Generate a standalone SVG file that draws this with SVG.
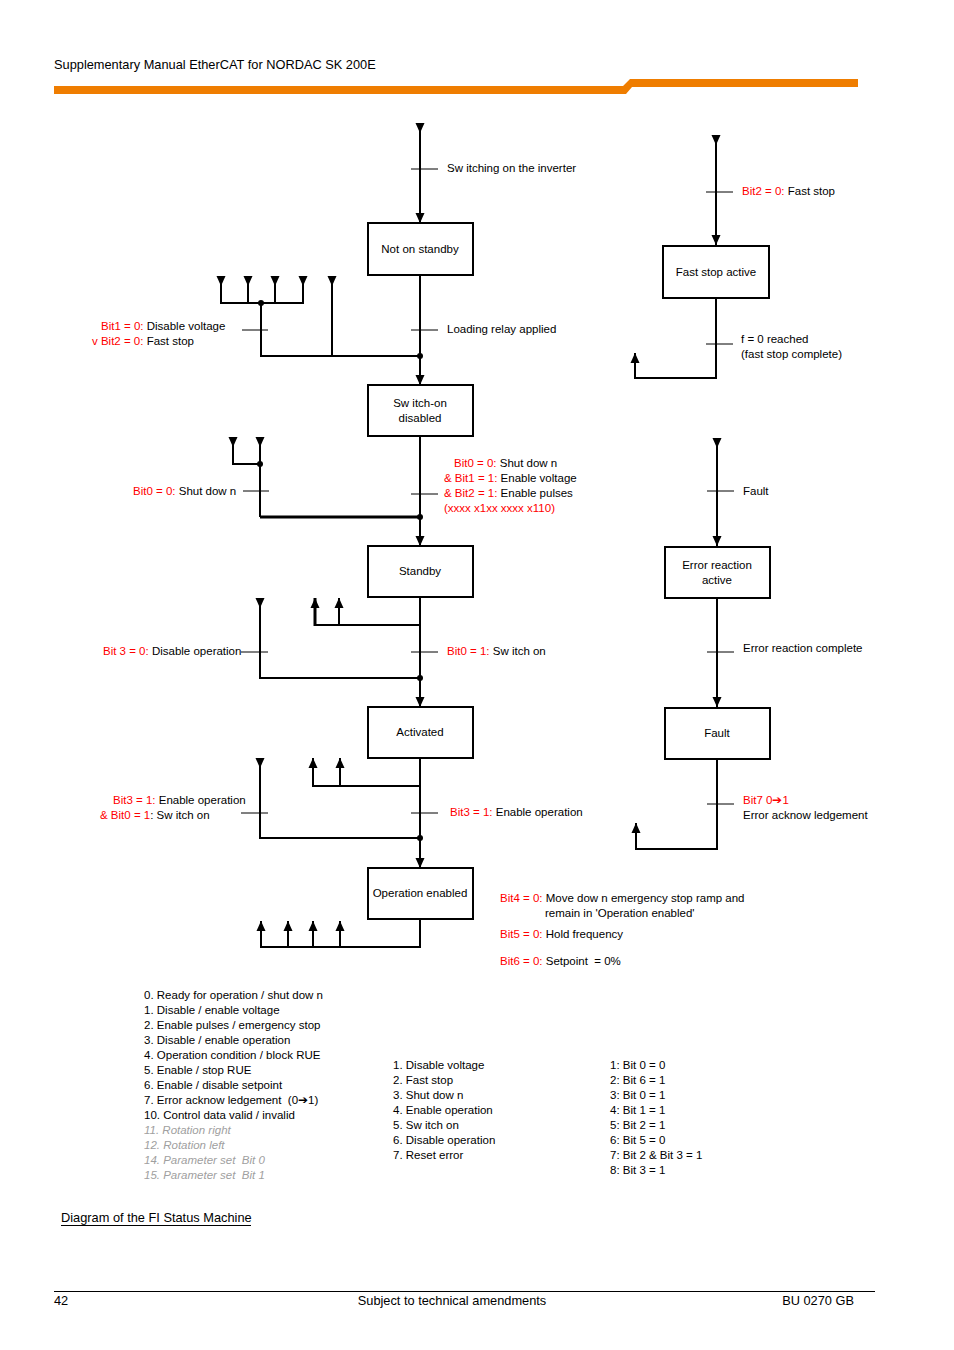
<svg xmlns="http://www.w3.org/2000/svg" width="954" height="1350" viewBox="0 0 954 1350">
<style>
text{font-family:"Liberation Sans",Arial,sans-serif;font-size:11.5px;fill:#000}
.r{fill:#ff0000}
.g{fill:#a0a0a0;font-style:italic}
.hd{font-size:12.8px}
.c{text-anchor:middle}
.ln{stroke:#000;stroke-width:2;fill:none}
.tk{stroke:#000;stroke-width:1;fill:none}
.bx{fill:#fff;stroke:#000;stroke-width:2}
</style>
<defs>
<path id="ad" d="M-4.5,-10 L4.5,-10 L0,0 Z" fill="#000"/>
<path id="au" d="M-4.5,10 L4.5,10 L0,0 Z" fill="#000"/>
<circle id="dot" r="3" fill="#000"/>
</defs>
<rect width="954" height="1350" fill="#fff"/>
<g id="header">
<text x="54" y="69" class="hd">Supplementary Manual EtherCAT for NORDAC SK 200E</text>
<path d="M54,86 L623,86 L630,79 L858,79 L858,87 L632,87 L626,94 L54,94 Z" fill="#ef7d00"/>
</g>
<g id="connectors">
<path class="ln" d="M420,123 V223"/>
<use href="#ad" x="420" y="133"/><use href="#ad" x="420" y="223"/>
<path class="ln" d="M420,275 V385"/>
<use href="#ad" x="420" y="385"/>
<path class="ln" d="M221,276 V303 H303 V276 M248,276 V303 M275,276 V303 M261,303 V356 H420 M332,276 V356"/>
<use href="#ad" x="221" y="286"/><use href="#ad" x="248" y="286"/><use href="#ad" x="275" y="286"/><use href="#ad" x="303" y="286"/><use href="#ad" x="332" y="286"/>
<use href="#dot" x="261" y="303"/><use href="#dot" x="420" y="356"/>
<path class="ln" d="M420,436 V546"/>
<use href="#ad" x="420" y="546"/>
<path class="ln" d="M233,437 V464 H260 M260,437 V517"/>
<path d="M260,517 H420" stroke="#000" stroke-width="3"/>
<use href="#ad" x="233" y="447"/><use href="#ad" x="260" y="447"/>
<use href="#dot" x="260" y="464"/><use href="#dot" x="420" y="517"/>
<path class="ln" d="M420,597 V707"/>
<use href="#ad" x="420" y="707"/>
<path class="ln" d="M260,598 V678 H420"/>
<use href="#ad" x="260" y="608"/>
<path class="ln" d="M339,598 V625 M420,625 H315"/>
<path d="M315,598 V626" stroke="#000" stroke-width="3"/>
<use href="#au" x="315" y="598"/><use href="#au" x="339" y="598"/>
<use href="#dot" x="420" y="678"/>
<path class="ln" d="M420,758 V868"/>
<use href="#ad" x="420" y="868"/>
<path class="ln" d="M260,758 V838 H420"/>
<use href="#ad" x="260" y="768"/>
<path class="ln" d="M313,758 V786 H420 M340,758 V786"/>
<use href="#au" x="313" y="758"/><use href="#au" x="340" y="758"/>
<use href="#dot" x="420" y="838"/>
<path class="ln" d="M420,919 V947 H261 V921 M288,921 V947 M313,921 V947 M340,921 V947"/>
<use href="#au" x="261" y="921"/><use href="#au" x="288" y="921"/><use href="#au" x="313" y="921"/><use href="#au" x="340" y="921"/>
<path class="ln" d="M716,135 V245"/>
<use href="#ad" x="716" y="145"/><use href="#ad" x="716" y="245"/>
<path class="ln" d="M716,298 V378 H635 V353"/>
<use href="#au" x="635" y="353"/>
<path class="ln" d="M717,438 V546"/>
<use href="#ad" x="717" y="448"/><use href="#ad" x="717" y="546"/>
<path class="ln" d="M717,598 V707"/>
<use href="#ad" x="717" y="707"/>
<path class="ln" d="M717,759 V849 H636 V823"/>
<use href="#au" x="636" y="823"/>
<path class="tk" d="M411,169 H438 M411,330 H438 M242,330 H268 M411,494 H438 M243,491 H269 M411,652 H438 M241,652 H268 M411,813 H438 M241,813 H268 M706,192 H733 M706,344 H733 M707,491 H734 M707,652 H734 M707,804 H734"/>
</g>
<g id="n-not-on-standby"><rect class="bx" x="368" y="223" width="105" height="52"/><text x="420" y="253" class="c">Not on standby</text></g>
<g id="n-switch-on-disabled"><rect class="bx" x="368" y="385" width="105" height="51"/><text x="420" y="407" class="c">Sw itch-on</text><text x="420" y="422" class="c">disabled</text></g>
<g id="n-standby"><rect class="bx" x="368" y="546" width="105" height="51"/><text x="420" y="575" class="c">Standby</text></g>
<g id="n-activated"><rect class="bx" x="368" y="707" width="105" height="51"/><text x="420" y="736" class="c">Activated</text></g>
<g id="n-operation-enabled"><rect class="bx" x="368" y="868" width="105" height="51"/><text x="420" y="897" class="c">Operation enabled</text></g>
<g id="n-fast-stop-active"><rect class="bx" x="663" y="246" width="106" height="52"/><text x="716" y="276" class="c">Fast stop active</text></g>
<g id="n-error-reaction-active"><rect class="bx" x="665" y="547" width="105" height="51"/><text x="717" y="569" class="c">Error reaction</text><text x="717" y="584" class="c">active</text></g>
<g id="n-fault"><rect class="bx" x="665" y="708" width="105" height="51"/><text x="717" y="737" class="c">Fault</text></g>
<g id="labels">
<text x="447" y="172">Sw itching on the inverter</text>
<text x="447" y="333">Loading relay applied</text>
<text x="101" y="330"><tspan class="r">Bit1 = 0:</tspan> Disable voltage</text>
<text x="92" y="345"><tspan class="r">v Bit2 = 0:</tspan> Fast stop</text>
<text x="133" y="495"><tspan class="r">Bit0 = 0:</tspan> Shut dow n</text>
<text x="454" y="467"><tspan class="r">Bit0 = 0:</tspan> Shut dow n</text>
<text x="444" y="482"><tspan class="r">&amp; Bit1 = 1:</tspan> Enable voltage</text>
<text x="444" y="497"><tspan class="r">&amp; Bit2 = 1:</tspan> Enable pulses</text>
<text x="444" y="512" class="r">(xxxx x1xx xxxx x110)</text>
<text x="103" y="655"><tspan class="r">Bit 3 = 0:</tspan> Disable operation</text>
<text x="447" y="655"><tspan class="r">Bit0 = 1:</tspan> Sw itch on</text>
<text x="113" y="804"><tspan class="r">Bit3 = 1:</tspan> Enable operation</text>
<text x="100" y="819"><tspan class="r">&amp; Bit0 = 1</tspan>: Sw itch on</text>
<text x="450" y="816"><tspan class="r">Bit3 = 1:</tspan> Enable operation</text>
<text x="500" y="902"><tspan class="r">Bit4 = 0:</tspan> Move dow n emergency stop ramp and</text>
<text x="545" y="917">remain in 'Operation enabled'</text>
<text x="500" y="938"><tspan class="r">Bit5 = 0:</tspan> Hold frequency</text>
<text x="500" y="965"><tspan class="r">Bit6 = 0:</tspan> Setpoint&#160; = 0%</text>
<text x="742" y="195"><tspan class="r">Bit2 = 0:</tspan> Fast stop</text>
<text x="741" y="343">f = 0 reached</text>
<text x="741" y="358">(fast stop complete)</text>
<text x="743" y="495">Fault</text>
<text x="743" y="652">Error reaction complete</text>
<text x="743" y="804" class="r">Bit7 0➔1</text>
<text x="743" y="819">Error acknow ledgement</text>
</g>
<g id="legend">
<text x="144" y="999">0. Ready for operation / shut dow n</text>
<text x="144" y="1014">1. Disable / enable voltage</text>
<text x="144" y="1029">2. Enable pulses / emergency stop</text>
<text x="144" y="1044">3. Disable / enable operation</text>
<text x="144" y="1059">4. Operation condition / block RUE</text>
<text x="144" y="1074">5. Enable / stop RUE</text>
<text x="144" y="1089">6. Enable / disable setpoint</text>
<text x="144" y="1104">7. Error acknow ledgement&#160; (0➔1)</text>
<text x="144" y="1119">10. Control data valid / invalid</text>
<text x="144" y="1134" class="g">11. Rotation right</text>
<text x="144" y="1149" class="g">12. Rotation left</text>
<text x="144" y="1164" class="g">14. Parameter set&#160; Bit 0</text>
<text x="144" y="1179" class="g">15. Parameter set&#160; Bit 1</text>
<text x="393" y="1069">1. Disable voltage</text>
<text x="393" y="1084">2. Fast stop</text>
<text x="393" y="1099">3. Shut dow n</text>
<text x="393" y="1114">4. Enable operation</text>
<text x="393" y="1129">5. Sw itch on</text>
<text x="393" y="1144">6. Disable operation</text>
<text x="393" y="1159">7. Reset error</text>
<text x="610" y="1069">1: Bit 0 = 0</text>
<text x="610" y="1084">2: Bit 6 = 1</text>
<text x="610" y="1099">3: Bit 0 = 1</text>
<text x="610" y="1114">4: Bit 1 = 1</text>
<text x="610" y="1129">5: Bit 2 = 1</text>
<text x="610" y="1144">6: Bit 5 = 0</text>
<text x="610" y="1159">7: Bit 2 &amp; Bit 3 = 1</text>
<text x="610" y="1174">8: Bit 3 = 1</text>
</g>
<g id="footer">
<text x="61" y="1222" class="hd">Diagram of the FI Status Machine</text>
<path d="M61,1225.5 H251" stroke="#000" stroke-width="1"/>
<path d="M54,1291.5 H875" stroke="#000" stroke-width="1"/>
<text x="54" y="1305" class="hd">42</text>
<text x="452" y="1305" class="hd c">Subject to technical amendments</text>
<text x="854" y="1305" class="hd" text-anchor="end">BU 0270 GB</text>
</g>
</svg>
